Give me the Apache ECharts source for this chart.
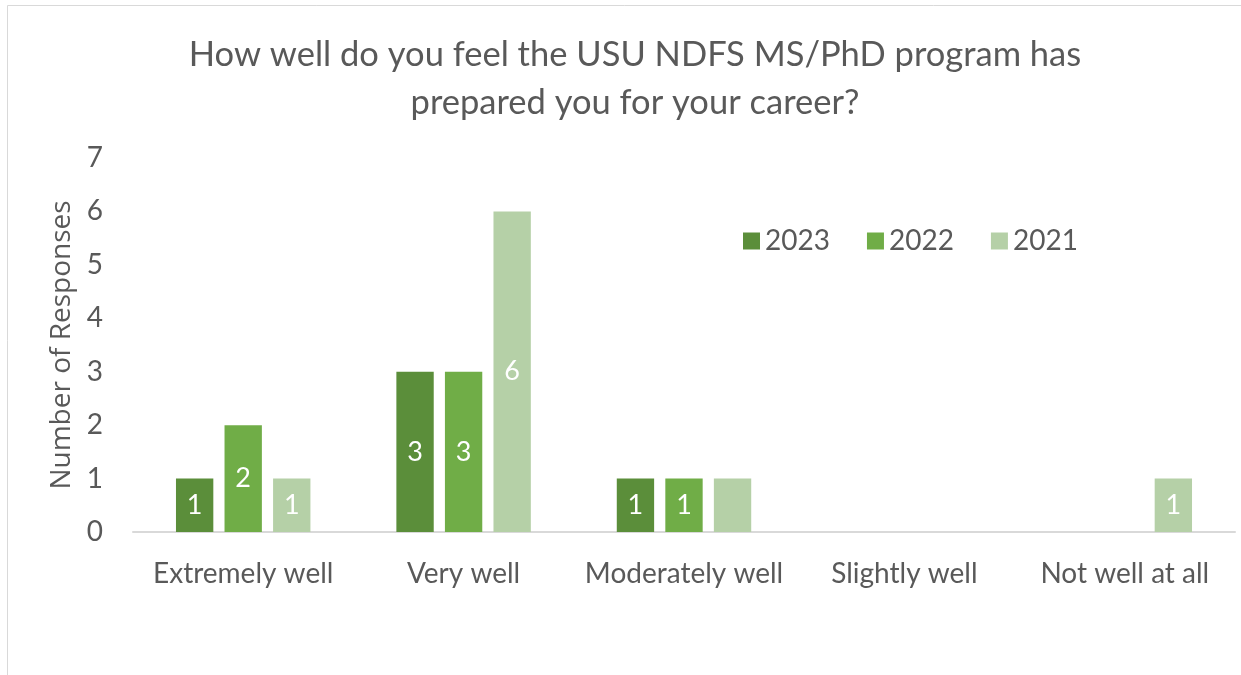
<!DOCTYPE html>
<html>
<head>
<meta charset="utf-8">
<script src="https://cdn.jsdelivr.net/npm/echarts@6/dist/echarts.min.js"></script>
<style>
  html, body { margin: 0; padding: 0; background: #fff; }
  #chart { width: 1241px; height: 675px; }
</style>
</head>
<body>
<div id="chart"></div>
<script>
const categories = ['Extremely well', 'Very well', 'Moderately well', 'Slightly well', 'Not well at all'];
const years = ['2023', '2022', '2021'];
const values2023 = [1, 3, 1, null, null];
const values2022 = [2, 3, 1, null, null];
const values2021 = [1, 6, 1, null, 1];
// the original shows no label on the 2021 "Moderately well" bar
const hiddenLabels2021 = [2];
const yTicks = [0, 1, 2, 3, 4, 5, 6, 7];

const colors = ['#5B8E3A', '#70AD47', '#B5D0A7'];
const textColor = '#595959';
const font = 'Lato, "Open Sans", sans-serif';

const chart = echarts.init(document.getElementById('chart'));

const makeSeries = (name, values, color, hidden) => ({
  name: name,
  type: 'bar',
  barGap: '30%',
  barCategoryGap: '39%',
  itemStyle: { color: color },
  label: {
    show: true,
    position: 'inside',
    color: '#fff',
    fontSize: 27,
    fontFamily: font
  },
  data: values.map((v, i) =>
    hidden && hidden.includes(i) ? { value: v, label: { show: false } } : v
  )
});

const option = {
  backgroundColor: '#fff',
  textStyle: { fontFamily: font, color: textColor },
  graphic: [{
    type: 'rect',
    shape: { x: 7.5, y: 5.5, width: 1260, height: 700 },
    style: { fill: 'none', stroke: '#d9d9d9', lineWidth: 1 },
    silent: true
  }],
  title: {
    text: 'How well do you feel the USU NDFS MS/PhD program has\nprepared you for your career?',
    left: 630,
    textAlign: 'center',
    top: 26,
    textStyle: {
      fontFamily: font,
      fontSize: 34.5,
      fontWeight: 'normal',
      color: textColor,
      lineHeight: 48
    }
  },
  legend: {
    data: years,
    left: 738,
    top: 222,
    itemWidth: 17,
    itemHeight: 17,
    itemGap: 37,
    icon: 'rect',
    textStyle: { fontSize: 28, color: textColor, fontFamily: font }
  },
  grid: {
    left: 133,
    right: 6,
    top: 158,
    bottom: 143
  },
  xAxis: {
    type: 'category',
    data: categories,
    axisLine: { lineStyle: { color: '#d9d9d9', width: 2 } },
    axisTick: { show: false },
    axisLabel: { interval: 0, fontSize: 28, color: textColor, margin: 28, fontFamily: font }
  },
  yAxis: {
    type: 'value',
    min: yTicks[0],
    max: yTicks[yTicks.length - 1],
    interval: 1,
    name: 'Number of Responses',
    nameLocation: 'middle',
    nameGap: 56,
    nameTextStyle: { fontSize: 28, color: textColor, fontFamily: '"Open Sans", sans-serif' },
    splitLine: { show: false },
    axisLine: { show: false },
    axisTick: { show: false },
    axisLabel: { fontSize: 28, color: textColor, margin: 30, fontFamily: font }
  },
  series: [
    makeSeries(years[0], values2023, colors[0]),
    makeSeries(years[1], values2022, colors[1]),
    makeSeries(years[2], values2021, colors[2], hiddenLabels2021)
  ]
};

chart.setOption(option);
</script>
</body>
</html>
